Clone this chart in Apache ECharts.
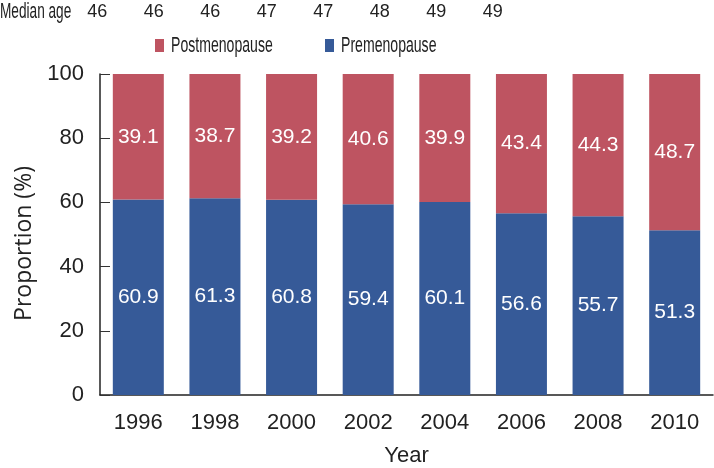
<!DOCTYPE html>
<html><head><meta charset="utf-8">
<script src="https://cdn.jsdelivr.net/npm/echarts@6/dist/echarts.min.js"></script>
<style>html,body{margin:0;padding:0;background:#fff}#c{width:714px;height:468px}</style>
</head><body><div id="c"></div>
<script>
const years = ['1996','1998','2000','2002','2004','2006','2008','2010'];
const medianAge = ['46','46','46','47','47','48','49','49'];
const premenopause = [60.9, 61.3, 60.8, 59.4, 60.1, 56.6, 55.7, 51.3];
const postmenopause = [39.1, 38.7, 39.2, 40.6, 39.9, 43.4, 44.3, 48.7];
const yTicks = [0, 20, 40, 60, 80, 100];
const seriesNames = ['Premenopause', 'Postmenopause'];

const FONT = '"Liberation Sans", Arial, sans-serif';
const RED = '#be5461';
const BLUE = '#365a98';
const TXT = '#222';

function legendItem(x, color, label) {
  return {
    type: 'group', x: x, y: 38, children: [
      { type: 'rect', shape: { x: 0, y: 1, width: 9, height: 13 }, style: { fill: color } },
      { type: 'text', x: 16, y: 8, scaleX: 0.64,
        style: { text: label, fontFamily: FONT, fontSize: 22, fill: TXT, verticalAlign: 'middle' } }
    ]
  };
}

const chart = echarts.init(document.getElementById('c'));
chart.setOption({
  animation: false,
  textStyle: { fontFamily: FONT },
  grid: [
    { left: 100, right: 1, top: 74, bottom: 73, containLabel: false, outerBoundsMode: 'none' },
    { left: 69, width: 452, top: 23, height: 1, containLabel: false, outerBoundsMode: 'none' }
  ],
  graphic: [
    { type: 'text', x: 0, y: 12, scaleX: 0.62,
      style: { text: 'Median age', fontFamily: FONT, fontSize: 22, fill: TXT, verticalAlign: 'middle' } },
    legendItem(155, RED, seriesNames[1]),
    legendItem(325, BLUE, seriesNames[0])
  ],
  xAxis: [{
    type: 'category', data: years, gridIndex: 0,
    name: 'Year', nameLocation: 'middle', nameGap: 50,
    nameTextStyle: { fontFamily: FONT, fontSize: 22, color: TXT },
    axisLine: { lineStyle: { color: TXT, width: 1.5 } },
    axisTick: { inside: true, length: 13, lineStyle: { color: '#333' } },
    axisLabel: { fontFamily: FONT, fontSize: 22, color: TXT, margin: 17 }
  }, {
    type: 'category', data: medianAge, gridIndex: 1, position: 'top',
    axisLine: { show: false }, axisTick: { show: false },
    axisLabel: { fontFamily: FONT, fontSize: 18, color: TXT, margin: 2, interval: 0 }
  }],
  yAxis: [{
    type: 'value', min: 0, max: 100, interval: 20, gridIndex: 0,
    name: 'Proportion (%)', nameLocation: 'middle', nameGap: 63,
    nameTextStyle: { fontFamily: '"Open Sans", sans-serif', fontSize: 23, color: TXT, padding: [0, 18, 0, 0] },
    axisLine: { show: true, lineStyle: { color: TXT, width: 1.5 } },
    axisTick: { show: true, inside: true, length: 10, lineStyle: { color: '#333' } },
    splitLine: { show: false },
    axisLabel: { fontFamily: FONT, fontSize: 22, color: TXT, margin: 16, customValues: yTicks }
  }, {
    type: 'value', gridIndex: 1, show: false
  }],
  series: [{
    name: seriesNames[0], type: 'bar', stack: 'a', data: premenopause,
    xAxisIndex: 0, yAxisIndex: 0,
    barWidth: 51, itemStyle: { color: BLUE },
    label: { show: true, position: 'inside', color: '#fff', fontFamily: FONT, fontSize: 21 }
  }, {
    name: seriesNames[1], type: 'bar', stack: 'a', data: postmenopause,
    xAxisIndex: 0, yAxisIndex: 0,
    barWidth: 51, itemStyle: { color: RED },
    label: { show: true, position: 'inside', color: '#fff', fontFamily: FONT, fontSize: 21 }
  }, {
    type: 'bar', data: [], xAxisIndex: 1, yAxisIndex: 1
  }]
});
</script></body></html>
